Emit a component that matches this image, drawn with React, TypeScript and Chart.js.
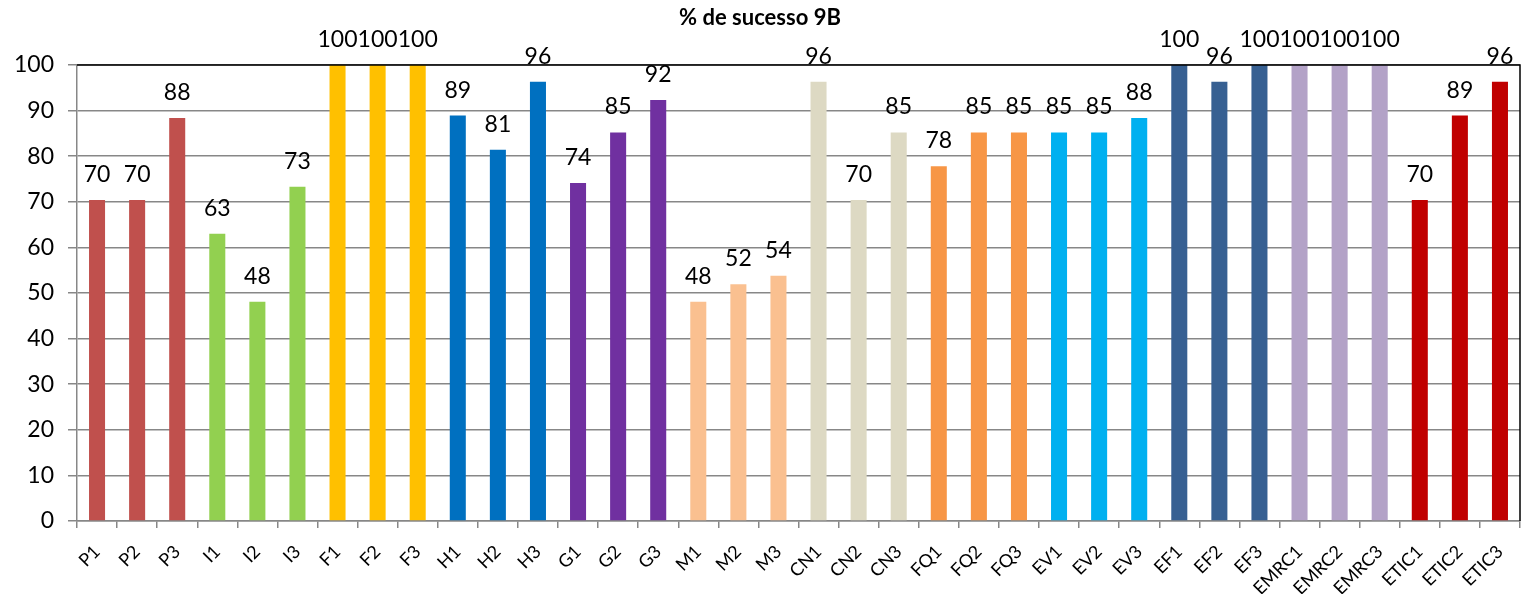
import { useEffect, useRef } from "react";
import { Chart, registerables } from "chart.js";
Chart.register(...registerables);

const chartTitle = "% de sucesso 9B";
const categories = [
  "P1", "P2", "P3", "I1", "I2", "I3", "F1", "F2", "F3", "H1", "H2", "H3",
  "G1", "G2", "G3", "M1", "M2", "M3", "CN1", "CN2", "CN3", "FQ1", "FQ2", "FQ3",
  "EV1", "EV2", "EV3", "EF1", "EF2", "EF3", "EMRC1", "EMRC2", "EMRC3", "ETIC1", "ETIC2", "ETIC3",
];
const values = [
  70.4, 70.4, 88.4, 63.0, 48.1, 73.3, 100, 100, 100, 88.9, 81.4, 96.3,
  74.1, 85.2, 92.3, 48.1, 51.9, 53.8, 96.3, 70.4, 85.2, 77.8, 85.2, 85.2,
  85.2, 85.2, 88.4, 100, 96.3, 100, 100, 100, 100, 70.4, 88.9, 96.3,
];
const barColors = [
  "#C0504D", "#C0504D", "#C0504D",
  "#92D050", "#92D050", "#92D050",
  "#FFC000", "#FFC000", "#FFC000",
  "#0070C0", "#0070C0", "#0070C0",
  "#7030A0", "#7030A0", "#7030A0",
  "#FAC090", "#FAC090", "#FAC090",
  "#DDD9C3", "#DDD9C3", "#DDD9C3",
  "#F79646", "#F79646", "#F79646",
  "#00B0F0", "#00B0F0", "#00B0F0",
  "#376092", "#376092", "#376092",
  "#B3A2C7", "#B3A2C7", "#B3A2C7",
  "#C00000", "#C00000", "#C00000",
];
const yMin = 0;
const yMax = 100;
const yStep = 10;

const GRAY = "#878787";

const valueLabels = {
  id: "valueLabels",
  afterDatasetsDraw(chart: any) {
    const ctx = chart.ctx;
    const meta = chart.getDatasetMeta(0);
    ctx.save();
    ctx.font = "23px Lato";
    ctx.fillStyle = "#000";
    ctx.textAlign = "center";
    ctx.textBaseline = "alphabetic";
    meta.data.forEach((bar: any, i: number) => {
      ctx.fillText(String(Math.round(values[i])), bar.x, bar.y - 18);
    });
    ctx.restore();
  },
};

const frame = {
  id: "frame",
  afterDraw(chart: any) {
    const { ctx, chartArea } = chart;
    ctx.save();
    ctx.strokeStyle = "#000";
    ctx.lineWidth = 1.5;
    ctx.beginPath();
    ctx.moveTo(chartArea.left, chartArea.top);
    ctx.lineTo(chartArea.right, chartArea.top);
    ctx.lineTo(chartArea.right, chartArea.bottom);
    ctx.stroke();
    ctx.restore();
  },
};

export default function App() {
  const ref = useRef<HTMLCanvasElement | null>(null);
  useEffect(() => {
    document.body.style.margin = "0";
    if (!ref.current) return;
    const chart = new Chart(ref.current, {
      type: "bar",
      data: {
        labels: categories,
        datasets: [
          {
            data: values,
            backgroundColor: barColors,
            borderWidth: 0,
            barPercentage: 0.4,
            categoryPercentage: 1,
          },
        ],
      },
      options: {
        animation: false,
        responsive: false,
        layout: { padding: { top: 0, right: 4, bottom: 0, left: 0 } },
        plugins: {
          legend: { display: false },
          tooltip: { enabled: false },
          title: {
            display: true,
            text: chartTitle,
            color: "#000",
            font: { family: "Lato", size: 22, weight: "bold", lineHeight: 1.2 },
            padding: { top: 5, bottom: 33.6 },
          },
        },
        scales: {
          x: {
            grid: {
              drawOnChartArea: false,
              drawTicks: true,
              tickLength: 7,
              color: GRAY,
              lineWidth: 1.5,
            },
            border: { display: true, color: GRAY, width: 1.5 },
            ticks: {
              color: "#000",
              font: { family: "Lato", size: 18 },
              maxRotation: 45,
              minRotation: 45,
              autoSkip: false,
              padding: 13,
            },
            afterFit(scale: any) {
              scale.height = 73;
              scale.paddingLeft = 0;
              scale.paddingRight = 0;
            },
          },
          y: {
            min: yMin,
            max: yMax,
            ticks: {
              stepSize: yStep,
              color: "#000",
              font: { family: "Lato", size: 23 },
              padding: 14,
            },
            grid: { color: GRAY, lineWidth: 1.5, tickLength: 9 },
            border: { display: true, color: GRAY, width: 1.5 },
            afterFit(scale: any) {
              scale.width = 77;
            },
          },
        },
      },
      plugins: [valueLabels, frame],
    });
    return () => chart.destroy();
  }, []);
  return (
    <div style={{ width: 1524, height: 594 }}>
      <canvas ref={ref} width={1524} height={594} />
    </div>
  );
}
